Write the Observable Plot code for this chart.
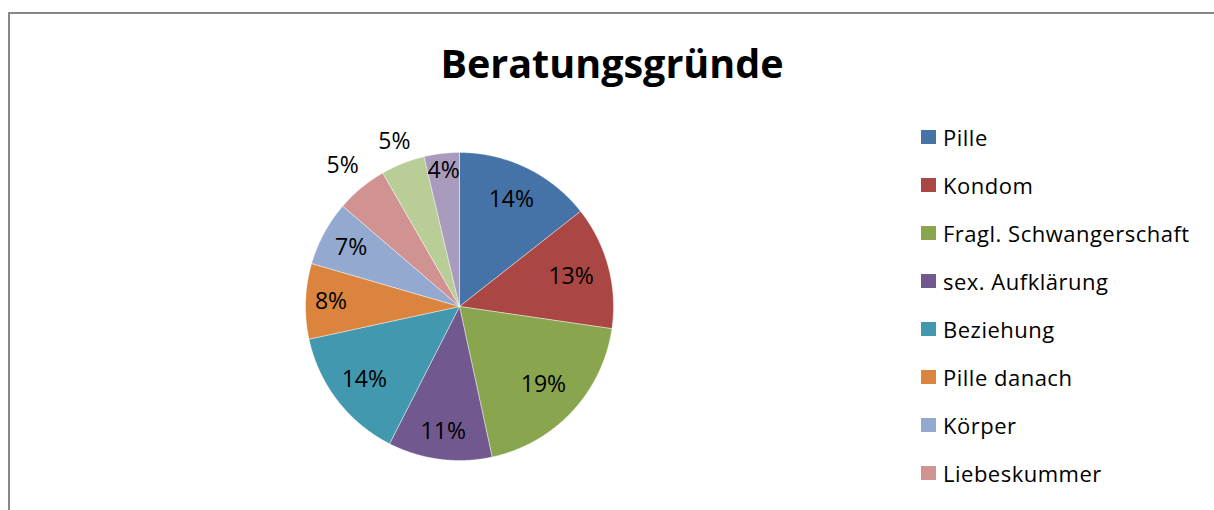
<!DOCTYPE html>
<html>
<head>
<meta charset="utf-8">
<script src="https://cdn.jsdelivr.net/npm/d3@7"></script>
<script src="https://cdn.jsdelivr.net/npm/@observablehq/plot@0.6"></script>
<style>
  html, body { margin: 0; padding: 0; background: #fff; overflow: hidden; width: 1214px; height: 510px; }
  body { position: relative; font-family: "Open Sans", sans-serif; color: #000; }
  #frame { position: absolute; left: 8px; top: 12px; width: 1400px; height: 700px;
           border-left: 2px solid #878787; border-top: 2px solid #878787; }
  #title { position: absolute; left: 0; width: 1224px; top: 36px; text-align: center;
           font-weight: 700; font-size: 39.5px; line-height: normal; }
  #chart { position: absolute; left: 245px; top: 92px; }
  #legend { position: absolute; left: 921px; top: 113px; }
  .row { height: 48px; display: flex; align-items: center; font-size: 22px; letter-spacing: 0.5px; white-space: nowrap; }
  .sw { width: 15px; height: 14px; margin-right: 7px; flex: none; }
</style>
</head>
<body>
<div id="frame"></div>
<div id="title">Beratungsgründe</div>
<div id="chart"></div>
<div id="legend"></div>
<script>
// ---- data ----
const categories = ["Pille", "Kondom", "Fragl. Schwangerschaft", "sex. Aufklärung", "Beziehung",
                    "Pille danach", "Körper", "Liebeskummer", "Kategorie 9", "Kategorie 10"];
const shares = [14.4, 12.9, 19.3, 10.9, 14.1, 7.9, 6.8, 5.4, 4.6, 3.7];
const colors = ["#4572A7", "#AA4643", "#89A54E", "#71588F", "#4198AF",
                "#DB843D", "#93A9CF", "#D19392", "#B9CD96", "#A99BBD"];

// label distance from centre (fraction of radius), Excel "best fit" placement
const labelRadius = [0.77, 0.75, 0.745, 0.82, 0.78, 0.835, 0.80, 1.19, 1.15, 0.89];

// ---- build slices ----
const arcs = d3.pie().sort(null).value(d => d)(shares);
const slicePoints = [];
const labels = [];
arcs.forEach((a, i) => {
  const cat = categories[i];
  slicePoints.push({cat, x: 0, y: 0});
  const n = Math.max(2, Math.ceil((a.endAngle - a.startAngle) / 0.005));
  for (let k = 0; k <= n; k++) {
    const t = a.startAngle + (a.endAngle - a.startAngle) * k / n;
    slicePoints.push({cat, x: Math.sin(t), y: Math.cos(t)});
  }
  slicePoints.push({cat, x: 0, y: 0});
  const mid = (a.startAngle + a.endAngle) / 2;
  const r = labelRadius[i];
  labels.push({cat, x: Math.sin(mid) * r, y: Math.cos(mid) * r, text: Math.round(shares[i]) + "%"});
});

const R = 154;
const mL = 60, mR = 60, mT = 60, mB = 40;
const chart = Plot.plot({
  width: 2 * R + mL + mR,
  height: 2 * R + mT + mB,
  marginLeft: mL, marginRight: mR, marginTop: mT, marginBottom: mB,
  x: {domain: [-1, 1], axis: null},
  y: {domain: [-1, 1], axis: null},
  color: {domain: categories, range: colors},
  style: {fontFamily: "Open Sans, sans-serif", background: "transparent", overflow: "visible"},
  marks: [
    Plot.line(slicePoints, {x: "x", y: "y", z: "cat", fill: "cat", stroke: "#ffffff",
                            strokeWidth: 0.6, strokeOpacity: 0.7, curve: "linear"}),
    Plot.text(labels, {x: "x", y: "y", text: "text", fontSize: 23, fill: "#000"})
  ]
});
document.getElementById("chart").appendChild(chart);

// ---- legend (the chart area is cropped at the bottom: only rows that fit are shown) ----
const legend = document.getElementById("legend");
const rowH = 48, legendTop = 113, pageH = 510;
const visibleRows = Math.floor((pageH - legendTop) / rowH);
categories.slice(0, visibleRows).forEach((c, i) => {
  const row = document.createElement("div");
  row.className = "row";
  const sw = document.createElement("div");
  sw.className = "sw";
  sw.style.background = colors[i];
  const tx = document.createElement("span");
  tx.textContent = c;
  row.appendChild(sw);
  row.appendChild(tx);
  legend.appendChild(row);
});
</script>
</body>
</html>
